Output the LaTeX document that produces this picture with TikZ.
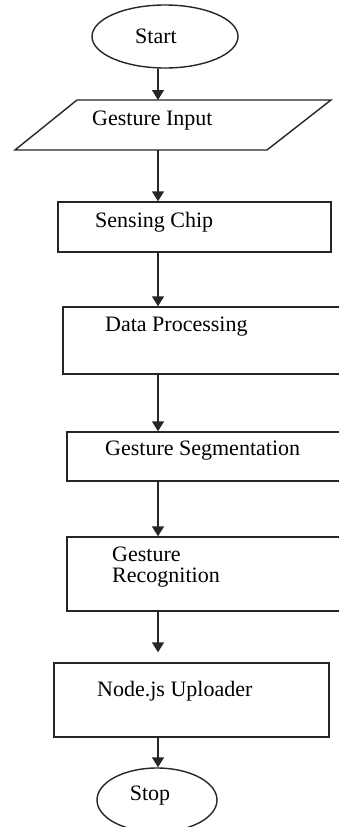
\documentclass[tikz,border=0pt]{standalone}
\usepackage{fontspec}
\setmainfont{Liberation Serif}
\usetikzlibrary{arrows.meta,shapes.geometric}
\begin{document}
\begin{tikzpicture}[x=1pt,y=-1pt,
  line/.style={draw=black!85,line width=1.4pt},
  box/.style={line,rectangle,inner sep=0pt},
  term/.style={line,ellipse,inner sep=0pt},
  lbl/.style={inner sep=0pt,anchor=west,font=\fontsize{22}{21}\selectfont,align=left},
  arr/.style={line,-{Triangle[length=10pt,width=12pt]}}]
\useasboundingbox[fill=white] (0,0) rectangle (338,827);
\coordinate (ax) at (158,0);
% Start
\node[term,minimum width=146pt,minimum height=63pt] (start) at (165,36.5) {};
\node[inner sep=0pt,font=\fontsize{22}{21}\selectfont] (startT) at (156,36) {Start};
% Gesture input parallelogram
\coordinate (inTL) at (77,100);
\coordinate (inTR) at (331,100);
\coordinate (inBR) at (267,150);
\coordinate (inBL) at (15,150);
\draw[line,line join=miter] (inTL) -- (inTR) -- (inBR) -- (inBL) -- cycle;
\node[lbl] (inT) at (92,121) {Gesture Input};
% boxes
\node[box,minimum width=273pt,minimum height=50pt] (sc) at (194.5,227) {};
\node[lbl] (scT) at (95,222) {Sensing Chip};
\node[box,minimum width=287pt,minimum height=67pt] (dp) at (206.5,340.5) {};
\node[lbl] (dpT) at (105,327) {Data Processing};
\node[box,minimum width=283pt,minimum height=49pt] (gs) at (208.5,456.5) {};
\node[lbl] (gsT) at (105,451) {Gesture Segmentation};
\node[box,minimum width=283pt,minimum height=74pt] (gr) at (208.5,574) {};
\node[lbl] (grT) at (112,567) {Gesture\\Recognition};
\node[box,minimum width=275pt,minimum height=74pt] (nu) at (191.5,700) {};
\node[lbl] (nuT) at (97,691) {Node.js Uploader};
% Stop
\node[term,minimum width=120pt,minimum height=64pt] (stop) at (157,800) {};
\node[inner sep=0pt,font=\fontsize{22}{21}\selectfont] (stopT) at (150,796) {Stop};
% connectors
\draw[arr] (start.south -| ax) -- (inTL -| ax);
\draw[arr] (inBL -| ax) -- (sc.north -| ax);
\draw[arr] (sc.south -| ax) -- (dp.north -| ax);
\draw[arr] (dp.south -| ax) -- (gs.north -| ax);
\draw[arr] (gs.south -| ax) -- (gr.north -| ax);
\draw[arr,shorten >=10pt] (gr.south -| ax) -- (nu.north -| ax);
\draw[arr] (nu.south -| ax) -- (stop.north -| ax);
\end{tikzpicture}
\end{document}
